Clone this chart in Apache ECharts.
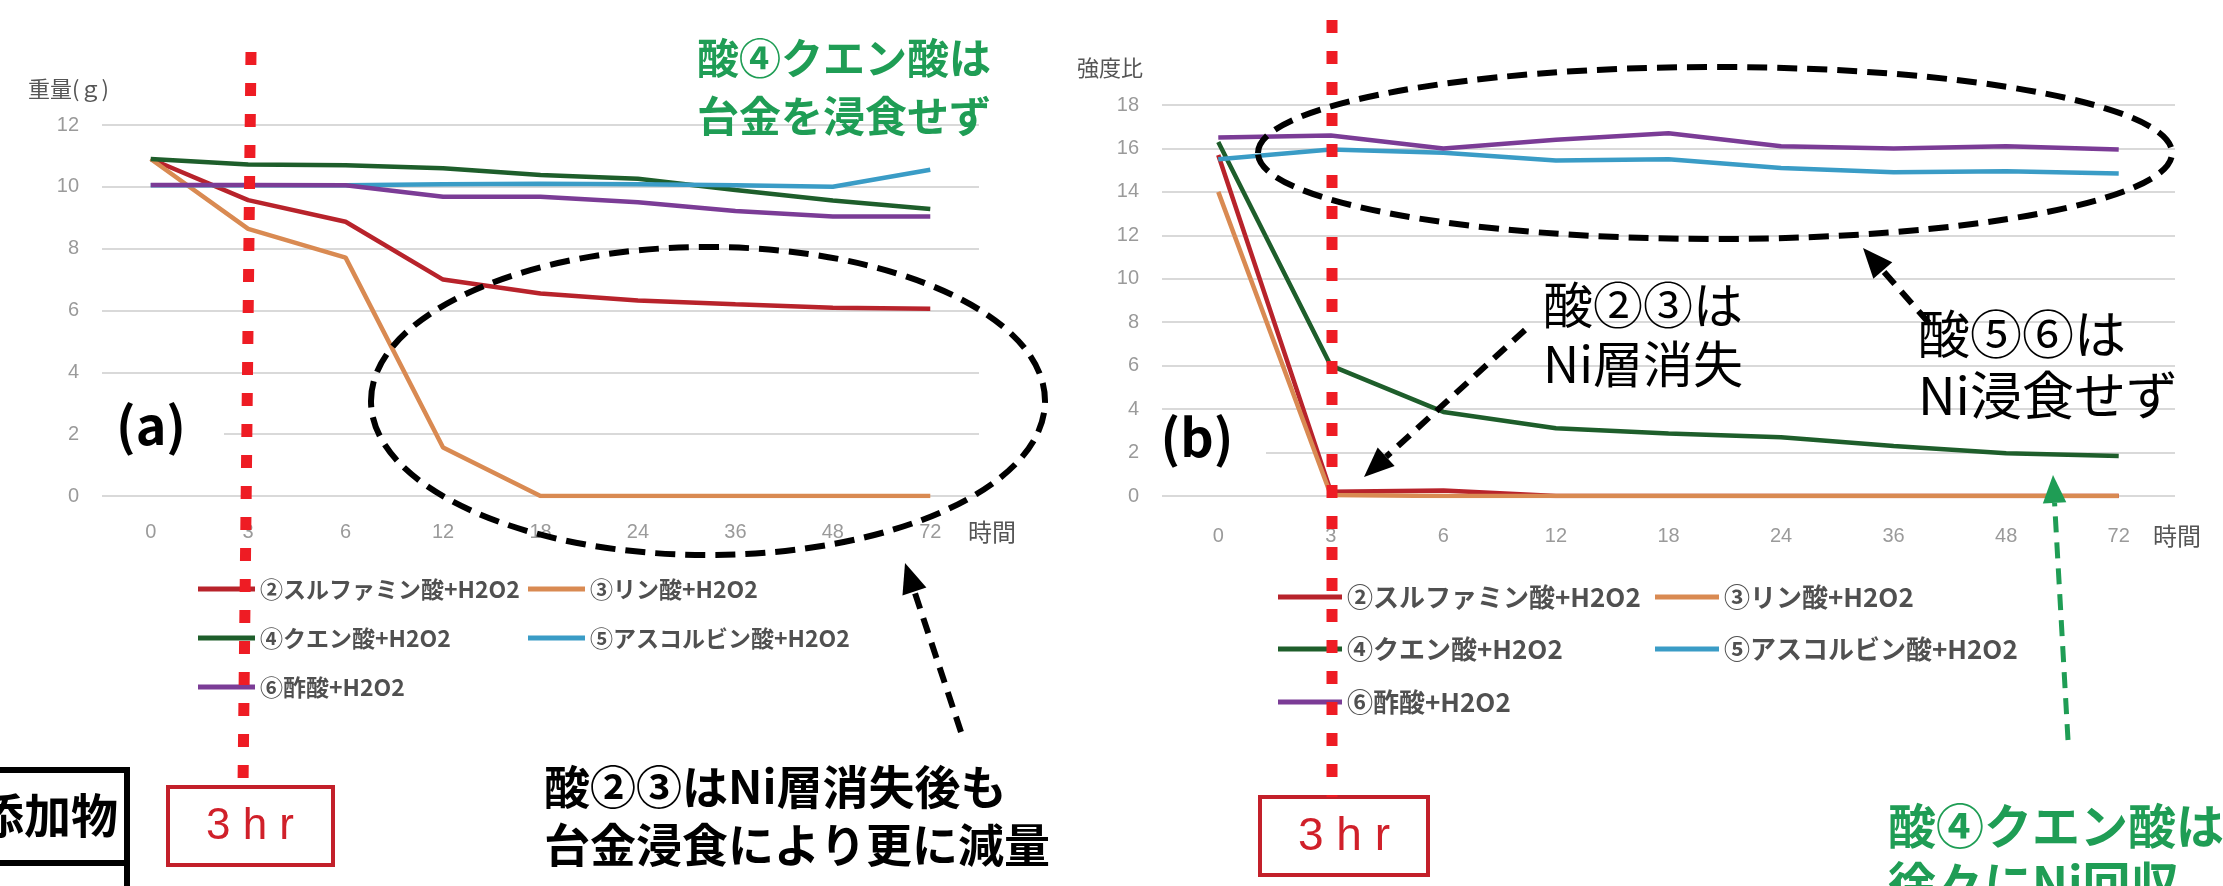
<!DOCTYPE html>
<html>
<head>
<meta charset="utf-8">
<script src="https://cdn.jsdelivr.net/npm/echarts@6.0.0/dist/echarts.min.js"></script>
<style>
  html, body { margin: 0; padding: 0; background: #fff; }
  #chart { width: 2223px; height: 886px; }
</style>
</head>
<body>
<div id="chart"></div>
<script>
// 時間 (hr)
var hours = ['0', '3', '6', '12', '18', '24', '36', '48', '72'];
var names = ['②スルファミン酸+H2O2', '③リン酸+H2O2', '④クエン酸+H2O2', '⑤アスコルビン酸+H2O2', '⑥酢酸+H2O2'];
var colors = ['#b8232b', '#d98a52', '#1e5e2b', '#3a9cc6', '#7b3c96'];

// (a) 重量 (g)
var wSulfamic   = [10.9, 9.57, 8.87, 7.0, 6.55, 6.32, 6.2, 6.09, 6.06];
var wPhosphoric = [10.9, 8.64, 7.71, 1.57, 0, 0, 0, 0, 0];
var wCitric     = [10.9, 10.72, 10.7, 10.6, 10.38, 10.26, 9.9, 9.56, 9.28];
var wAscorbic   = [10.05, 10.05, 10.05, 10.08, 10.1, 10.08, 10.05, 10.0, 10.55];
var wAcetic     = [10.06, 10.06, 10.05, 9.68, 9.68, 9.5, 9.22, 9.04, 9.04];

// (b) 強度比
var iSulfamic   = [15.7, 0.2, 0.25, 0, 0, 0, 0, 0, 0];
var iPhosphoric = [14.0, 0.05, 0, 0, 0, 0, 0, 0, 0];
var iCitric     = [16.3, 6.0, 3.87, 3.12, 2.88, 2.71, 2.3, 1.97, 1.84];
var iAscorbic   = [15.5, 15.95, 15.8, 15.45, 15.5, 15.1, 14.9, 14.95, 14.85];
var iAcetic     = [16.5, 16.6, 16.0, 16.4, 16.7, 16.1, 16.0, 16.1, 15.95];

var chart = echarts.init(document.getElementById('chart'));

var labelFont = 'Liberation Sans Narrow, Liberation Sans, sans-serif';
var jpFont = 'Noto Sans CJK JP, sans-serif';

function xAxisOf(grid, gap, margin) {
    return {
        type: 'category', gridIndex: grid, data: hours, boundaryGap: true,
        axisLine: {show: false}, axisTick: {show: false},
        axisLabel: {color: '#9a9a9a', fontSize: 20, fontFamily: labelFont, margin: margin},
        name: '時間', nameLocation: 'end', nameGap: gap,
        nameTextStyle: {color: '#555', fontSize: 24, fontFamily: jpFont, verticalAlign: 'top', padding: [margin - 2, 0, 0, 0]}
    };
}
function yAxisOf(grid, max) {
    return {
        type: 'value', gridIndex: grid, min: 0, max: max, interval: 2,
        axisLine: {show: false}, axisTick: {show: false},
        axisLabel: {color: '#9a9a9a', fontSize: 20, fontFamily: labelFont, margin: 23},
        splitLine: {lineStyle: {color: '#d9d9d9', width: 2}}
    };
}
function lineSeries(i, data, grid) {
    return {
        type: 'line', name: names[i], data: data, xAxisIndex: grid, yAxisIndex: grid,
        showSymbol: false, symbol: 'none', lineStyle: {width: 4.5, color: colors[i]},
        itemStyle: {color: colors[i]}, z: 2 + i * 0.1
    };
}
function legendItem(i, left, rowY, width, size) {
    return {
        data: [names[i]], left: left, top: rowY - (size + 4) / 2, padding: 0,
        icon: 'rect', itemWidth: width, itemHeight: 5, selectedMode: false,
        textStyle: {fontSize: size, lineHeight: size + 4, color: '#505050', fontWeight: 'bold', fontFamily: jpFont}
    };
}
function arrow(x1, y1, x2, y2, color, w, head) {
    var ang = Math.atan2(y2 - y1, x2 - x1);
    var bx = x2 - head * Math.cos(ang), by = y2 - head * Math.sin(ang);
    var px = -Math.sin(ang) * head * 0.42, py = Math.cos(ang) * head * 0.42;
    return [
        {type: 'line', z: 60, shape: {x1: x1, y1: y1, x2: bx, y2: by},
         style: {stroke: color, lineWidth: w, lineDash: [16, 10]}},
        {type: 'polygon', z: 60, shape: {points: [[x2, y2], [bx + px, by + py], [bx - px, by - py]]},
         style: {fill: color}}
    ];
}
function text(str, x, y, size, color, weight, align, family) {
    return {type: 'text', z: 80, x: x, y: y,
        style: {text: str, fontSize: size, fontFamily: family || jpFont, fontWeight: weight || 'normal',
                fill: color, align: align || 'left', verticalAlign: 'middle'}};
}
function dotted(x1, y1, x2, y2) {
    return {type: 'line', z: 70, shape: {x1: x1, y1: y1, x2: x2, y2: y2},
        style: {stroke: '#ee1c24', lineWidth: 11, lineDash: [13, 18]}};
}

var green = '#1f9d55';
var hrFont = 'Liberation Sans, Arial, sans-serif';
var graphics = [
    // white patches behind (a) / (b)
    {type: 'rect', z: 1, shape: {x: 100, y: 392, width: 124, height: 78}, style: {fill: '#fff'}},
    {type: 'rect', z: 1, shape: {x: 1160, y: 420, width: 106, height: 50}, style: {fill: '#fff'}},
    text('(a)', 151, 425, 52, '#000', 'bold', 'center'),
    text('(b)', 1197, 437, 52, '#000', 'bold', 'center'),
    text('重量(ｇ)', 28, 89, 22, '#555'),
    text('強度比', 1077, 68, 22, '#555'),
    // ellipses
    {type: 'ellipse', z: 55, shape: {cx: 708, cy: 401, rx: 337, ry: 154},
     style: {fill: 'none', stroke: '#000', lineWidth: 6, lineDash: [20, 10]}},
    {type: 'ellipse', z: 55, shape: {cx: 1715, cy: 153, rx: 457, ry: 86},
     style: {fill: 'none', stroke: '#000', lineWidth: 6, lineDash: [20, 10]}},
    // annotations
    text('酸④クエン酸は', 697, 58, 42, green, 'bold'),
    text('台金を浸食せず', 697, 116, 42, green, 'bold'),
    text('酸②③はNi層消失後も', 544, 787, 46, '#000', 'bold'),
    text('台金浸食により更に減量', 544, 845, 46, '#000', 'bold'),
    text('酸②③は', 1543, 305, 50, '#000'),
    text('Ni層消失', 1543, 364, 50, '#000'),
    text('酸⑤⑥は', 1918, 334, 52, '#000'),
    text('Ni浸食せず', 1918, 395, 52, '#000'),
    text('酸④クエン酸は', 1888, 826, 48, green, 'bold'),
    text('徐々にNi回収', 1888, 884, 48, green, 'bold'),
    // red 3hr markers
    dotted(251, 52, 243, 787),
    dotted(1332, 20, 1332, 797),
    {type: 'rect', z: 65, shape: {x: 168, y: 787, width: 165, height: 78},
     style: {fill: '#fff', stroke: '#c3202a', lineWidth: 4}},
    text('3 h r', 250, 827, 44, '#d0202a', 'normal', 'center', hrFont),
    {type: 'rect', z: 65, shape: {x: 1260, y: 797, width: 168, height: 78},
     style: {fill: '#fff', stroke: '#c3202a', lineWidth: 4}},
    text('3 h r', 1344, 837, 46, '#d0202a', 'normal', 'center', hrFont),
    // 添加物 cell
    {type: 'rect', z: 65, shape: {x: -10, y: 770, width: 137, height: 93},
     style: {fill: '#fff', stroke: '#000', lineWidth: 6}},
    {type: 'line', z: 65, shape: {x1: 127, y1: 863, x2: 127, y2: 890}, style: {stroke: '#000', lineWidth: 6}},
    text('添加物', 118, 815, 47, '#000', 'bold', 'right')
]
.concat(arrow(961, 732, 905, 563, '#000', 6, 30))
.concat(arrow(1525, 330, 1364, 477, '#000', 6, 30))
.concat(arrow(1929, 323, 1863, 248, '#000', 6, 30))
.concat(arrow(2068, 740, 2053, 475, green, 5, 28));

var option = {
    backgroundColor: '#fff',
    animation: false,
    grid: [
        {left: 102, right: 1244, top: 125, bottom: 390},
        {left: 1162, right: 48, top: 105, bottom: 390}
    ],
    xAxis: [xAxisOf(0, -11, 26), xAxisOf(1, -22, 30)],
    yAxis: [yAxisOf(0, 12), yAxisOf(1, 18)],
    legend: [
        legendItem(0, 198, 589, 57, 23), legendItem(1, 528, 589, 57, 23),
        legendItem(2, 198, 638, 57, 23), legendItem(3, 528, 638, 57, 23),
        legendItem(4, 198, 687, 57, 23),
        legendItem(0, 1278, 597, 64, 26), legendItem(1, 1655, 597, 64, 26),
        legendItem(2, 1278, 649, 64, 26), legendItem(3, 1655, 649, 64, 26),
        legendItem(4, 1278, 702, 64, 26)
    ],
    series: [
        lineSeries(0, wSulfamic, 0), lineSeries(1, wPhosphoric, 0), lineSeries(2, wCitric, 0),
        lineSeries(3, wAscorbic, 0), lineSeries(4, wAcetic, 0),
        lineSeries(0, iSulfamic, 1), lineSeries(1, iPhosphoric, 1), lineSeries(2, iCitric, 1),
        lineSeries(3, iAscorbic, 1), lineSeries(4, iAcetic, 1)
    ],
    graphic: {elements: graphics}
};
chart.setOption(option);
</script>
</body>
</html>
